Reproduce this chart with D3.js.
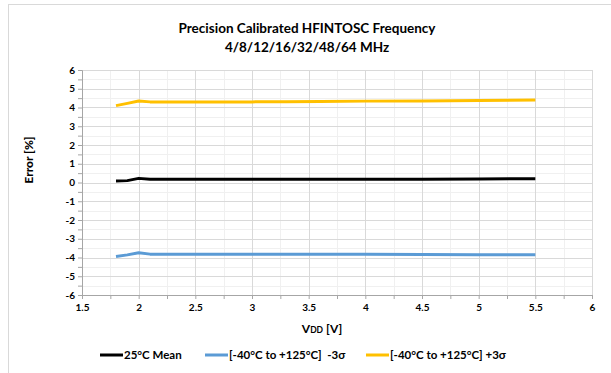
<!DOCTYPE html>
<html>
<head>
<meta charset="utf-8">
<script src="https://cdn.jsdelivr.net/npm/d3@7"></script>
<style>
  body { margin: 0; background: #fff; }
  text { font-family: Lato, "Open Sans", sans-serif; }
</style>
</head>
<body>
<div id="chart"></div>
<script>
// supply voltage points [V]
const vdd = [1.8, 1.9, 2.0, 2.1, 2.2, 2.5, 3.0, 3.3, 3.6, 4.0, 4.5, 5.0, 5.5];
// error [%]
const mean25 = [0.08, 0.10, 0.22, 0.17, 0.17, 0.17, 0.17, 0.17, 0.17, 0.17, 0.18, 0.19, 0.20];
const minus3s = [-3.95, -3.86, -3.75, -3.82, -3.82, -3.82, -3.82, -3.82, -3.82, -3.83, -3.84, -3.85, -3.85];
const plus3s = [4.10, 4.22, 4.35, 4.30, 4.30, 4.30, 4.30, 4.31, 4.32, 4.34, 4.35, 4.37, 4.40];

const seriesNames = ["25°C Mean", "[-40°C to +125°C]  -3σ", "[-40°C to +125°C] +3σ"];
const seriesColors = ["#000000", "#5b9bd5", "#ffc000"];
const seriesData = [mean25, minus3s, plus3s];

const xTicks = [1.5, 2, 2.5, 3, 3.5, 4, 4.5, 5, 5.5, 6];
const yTicks = [-6, -5, -4, -3, -2, -1, 0, 1, 2, 3, 4, 5, 6];

const W = 611, H = 373;
const margin = { top: 70, right: 19, bottom: 78, left: 82 };
const width = W - margin.left - margin.right;
const height = H - margin.top - margin.bottom;

const svg = d3.select("#chart").append("svg")
  .attr("width", W)
  .attr("height", H);

// outer chart frame
svg.append("rect")
  .attr("x", 8.5).attr("y", 4.5)
  .attr("width", 700).attr("height", 500)
  .attr("fill", "none")
  .attr("stroke", "#d9d9d9");

const g = svg.append("g")
  .attr("transform", "translate(" + margin.left + "," + margin.top + ")");

const x = d3.scaleLinear().domain([1.5, 6]).range([0, width]);
const y = d3.scaleLinear().domain([-6, 6]).range([height, 0]);

// minor grid
g.append("g").selectAll("line")
  .data(d3.range(1.75, 6, 0.5))
  .enter().append("line")
  .attr("x1", d => Math.round(x(d)) + 0.5).attr("x2", d => Math.round(x(d)) + 0.5)
  .attr("y1", 0).attr("y2", height)
  .attr("stroke", "#f0f0f0");
g.append("g").selectAll("line")
  .data(d3.range(-5.5, 6, 1))
  .enter().append("line")
  .attr("y1", d => Math.round(y(d)) + 0.5).attr("y2", d => Math.round(y(d)) + 0.5)
  .attr("x1", 0).attr("x2", width)
  .attr("stroke", "#f0f0f0");

// major grid
g.append("g").selectAll("line")
  .data(xTicks)
  .enter().append("line")
  .attr("x1", d => Math.round(x(d)) + 0.5).attr("x2", d => Math.round(x(d)) + 0.5)
  .attr("y1", 0).attr("y2", height)
  .attr("stroke", "#d9d9d9");
g.append("g").selectAll("line")
  .data(yTicks)
  .enter().append("line")
  .attr("y1", d => Math.round(y(d)) + 0.5).attr("y2", d => Math.round(y(d)) + 0.5)
  .attr("x1", 0).attr("x2", width)
  .attr("stroke", "#d9d9d9");

// axes
const xAxis = g.append("g")
  .attr("transform", "translate(0," + height + ")")
  .call(d3.axisBottom(x).tickValues(d3.range(1.5, 6.01, 0.25)).tickSize(4).tickFormat(d => xTicks.includes(d) ? d : ""));
const yAxis = g.append("g")
  .call(d3.axisLeft(y).tickValues(d3.range(-6, 6.01, 0.5)).tickSize(4).tickFormat(d => Number.isInteger(d) ? d : ""));

[xAxis, yAxis].forEach(a => {
  a.select(".domain").attr("stroke", "#a6a6a6");
  a.selectAll(".tick line").attr("stroke", "#a6a6a6");
  a.selectAll(".tick text")
    .attr("fill", "#000")
    .style("font-family", "Lato, sans-serif")
    .style("font-size", "10px")
    .style("font-weight", "bold");
});
xAxis.selectAll(".tick text").attr("y", 9);
yAxis.selectAll(".tick text").attr("x", -7);

// lines
const line = d3.line()
  .x((d, i) => x(vdd[i]))
  .y(d => y(d));

g.append("g").selectAll("path")
  .data(seriesData)
  .enter().append("path")
  .attr("d", line)
  .attr("fill", "none")
  .attr("stroke", (d, i) => seriesColors[i])
  .attr("stroke-width", 3)
  .attr("stroke-linejoin", "round");

// title
svg.append("text")
  .attr("x", 307).attr("y", 33)
  .attr("text-anchor", "middle")
  .style("font-size", "13.5px").style("font-weight", "bold")
  .text("Precision Calibrated HFINTOSC Frequency");
svg.append("text")
  .attr("x", 307).attr("y", 52)
  .attr("text-anchor", "middle")
  .style("font-size", "13.5px").style("font-weight", "bold")
  .text("4/8/12/16/32/48/64 MHz");

// axis titles
const xt = svg.append("text")
  .attr("x", 322).attr("y", 333)
  .attr("text-anchor", "middle")
  .style("font-size", "12px").style("font-weight", "bold");
xt.append("tspan").text("V");
xt.append("tspan").style("font-size", "8.5px").text("DD");
xt.append("tspan").text(" [V]");

svg.append("text")
  .attr("transform", "translate(33,160) rotate(-90)")
  .attr("text-anchor", "middle")
  .style("font-size", "12px").style("font-weight", "900")
  .text("Error [%]");

// legend
const legX = [100, 205, 366];
const leg = svg.append("g").selectAll("g")
  .data(seriesNames)
  .enter().append("g")
  .attr("transform", (d, i) => "translate(" + legX[i] + ",355)");
leg.append("line")
  .attr("x1", 0).attr("x2", 23)
  .attr("y1", 0).attr("y2", 0)
  .attr("stroke", (d, i) => seriesColors[i])
  .attr("stroke-width", 3);
leg.append("text")
  .attr("x", 24).attr("y", 4)
  .style("font-size", "11.5px").style("font-weight", "bold")
  .style("white-space", "pre")
  .text(d => d);
</script>
</body>
</html>
